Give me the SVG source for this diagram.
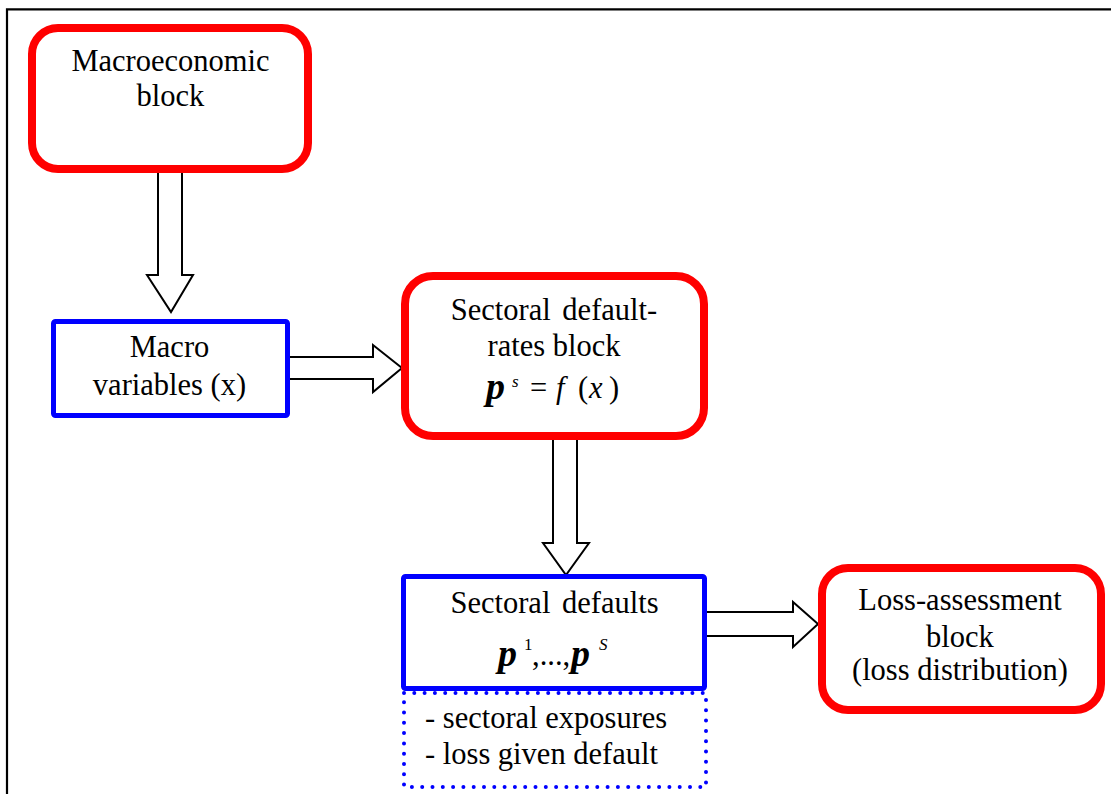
<svg xmlns="http://www.w3.org/2000/svg" width="1111" height="794" viewBox="0 0 1111 794">
<style>
text{font-family:'Liberation Serif','Times New Roman',Times,serif;font-size:30.5px;fill:#000}
.red{fill:#fff;stroke:#ff0000;stroke-width:8}
.blue{fill:#fff;stroke:#0000ff;stroke-width:5}
.arr{fill:#fff;stroke:#000;stroke-width:2;stroke-linejoin:miter}
.bi{font-weight:bold;font-style:italic;font-size:38px}
.it{font-style:italic}
.sup{font-size:17px}
</style>
<rect width="1111" height="794" fill="#fff"/>
<path d="M7,794 V9.3 H1111" fill="none" stroke="#000" stroke-width="2.2"/>
<g id="connectors">
<polygon class="arr" points="158,169 182,169 182,275 193,275 171,312 147,275 158,275"/>
<polygon class="arr" points="289,357 373,357 373,345 402,368 373,392 373,379 289,379"/>
<polygon class="arr" points="553,437 577,437 577,543 589,543 566,575 543,543 553,543"/>
<polygon class="arr" points="706,612 793,612 793,602 818,624 793,647 793,636 706,636"/>
</g>
<g id="macroeconomic">
<rect class="red" x="32" y="28" width="276" height="141" rx="26"/>
<text text-anchor="middle"><tspan x="170.5" y="71">Macroeconomic</tspan><tspan x="170.5" y="106">block</tspan></text>
</g>
<g id="macro-variables">
<rect class="blue" x="53.5" y="321.5" width="234" height="94" rx="2"/>
<text text-anchor="middle"><tspan x="169.5" y="357">Macro</tspan><tspan x="169.5" y="395">variables (x)</tspan></text>
</g>
<g id="sectoral-default-rates">
<rect class="red" x="405" y="276" width="299" height="160" rx="28"/>
<text text-anchor="middle"><tspan x="554" y="320" word-spacing="4">Sectoral default-</tspan><tspan x="554" y="356">rates block</tspan></text>
<text><tspan class="bi" x="486" y="399">p</tspan><tspan class="it sup" x="512" y="387">s</tspan><tspan x="530" y="398">=</tspan><tspan class="it" x="556" y="398">f</tspan><tspan x="578" y="398">(</tspan><tspan class="it" x="589" y="398">x</tspan><tspan x="609" y="398">)</tspan></text>
</g>
<g id="sectoral-defaults">
<rect fill="#fff" stroke="#0000ff" stroke-width="4" stroke-dasharray="0 10.3" stroke-linecap="round" x="404" y="693" width="302" height="94"/>
<rect class="blue" x="403.5" y="576.5" width="301" height="112" rx="2"/>
<text text-anchor="middle"><tspan x="554.5" y="613" word-spacing="4">Sectoral defaults</tspan></text>
<text><tspan class="bi" x="498" y="666">p</tspan><tspan class="sup" x="524" y="650">1</tspan><tspan x="532" y="665">,...,</tspan><tspan class="bi" x="571" y="666">p</tspan><tspan class="it sup" x="599" y="650">S</tspan></text>
<text><tspan x="425" y="728">- sectoral exposures</tspan><tspan x="425" y="764">- loss given default</tspan></text>
</g>
<g id="loss-assessment">
<rect class="red" x="822" y="568" width="279" height="142" rx="26"/>
<text text-anchor="middle"><tspan x="960" y="610">Loss-assessment</tspan><tspan x="960" y="647">block</tspan><tspan x="960" y="680">(loss distribution)</tspan></text>
</g>
</svg>
